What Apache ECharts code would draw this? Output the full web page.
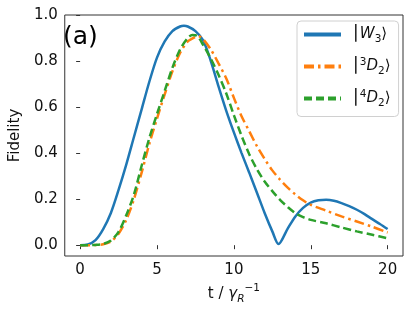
<!DOCTYPE html>
<html><head><meta charset="utf-8">
<script src="https://cdn.jsdelivr.net/npm/echarts@6/dist/echarts.min.js"></script>
<style>html,body{margin:0;padding:0;background:#fff}#c{width:414px;height:311px}</style>
</head><body><div id="c"></div>
<script>
var xTicks = [0, 5, 10, 15, 20];
var yTicks = [0, 0.2, 0.4, 0.6, 0.8, 1.0];

var tW3 = [0,0.5,1,1.5,2,2.5,3,3.5,4,4.5,5,5.5,6,6.5,6.75,7,7.5,8,8.5,9,9.5,10,10.5,11,11.5,12,12.5,12.9,13.5,14,14.5,15,15.5,16,16.5,17,17.5,18,18.5,19,19.5,20];
var fW3 = [0,0.003,0.022,0.07,0.14,0.24,0.35,0.47,0.59,0.71,0.815,0.885,0.93,0.95,0.953,0.95,0.93,0.89,0.80,0.69,0.585,0.49,0.40,0.315,0.228,0.14,0.06,0.005,0.072,0.125,0.162,0.185,0.195,0.197,0.193,0.183,0.17,0.154,0.135,0.113,0.092,0.07];

var t3D2 = [0,0.5,1,1.5,2,2.5,3,3.5,4,4.5,5,5.5,6,6.5,7,7.5,7.7,8,8.5,9,9.5,10,10.5,11,11.5,12,12.5,13,13.5,14,14.5,15,16,17,18,19,20];
var f3D2 = [0,0,0.001,0.004,0.016,0.05,0.11,0.2,0.315,0.44,0.55,0.655,0.755,0.835,0.885,0.905,0.908,0.895,0.85,0.79,0.725,0.64,0.56,0.495,0.43,0.375,0.325,0.285,0.25,0.22,0.195,0.175,0.15,0.125,0.103,0.08,0.055];

var t4D2 = [0,0.5,1,1.5,2,2.5,3,3.5,4,4.5,5,5.5,6,6.5,7,7.3,7.6,8,8.5,9,9.5,10,10.5,11,11.5,12,12.5,13,13.5,14,14.5,15,16,17,18,19,20];
var f4D2 = [0,0,0.001,0.005,0.02,0.058,0.13,0.22,0.345,0.465,0.57,0.67,0.77,0.85,0.90,0.913,0.91,0.87,0.81,0.74,0.66,0.565,0.475,0.395,0.33,0.277,0.235,0.197,0.166,0.139,0.122,0.11,0.095,0.077,0.06,0.045,0.03];

var names = ['W3', '3D2', '4D2'];

function pairs(t, f) { return t.map(function (v, i) { return [v, f[i]]; }); }

var chart = echarts.init(document.getElementById('c'), null, {renderer: 'canvas'});
var FONT = 'DejaVu Sans';
var legendText = {
  'W3': '{t|⎮}{i|W}{sub|3}{t|⟩}',
  '3D2': '{t|⎮}{sup|3}{i|D}{sub|2}{t|⟩}',
  '4D2': '{t|⎮}{sup|4}{i|D}{sub|2}{t|⟩}'
};
chart.setOption({
  animation: false,
  grid: {left: 60, top: 15, right: 11, bottom: 55, show: true, borderColor: '#333', borderWidth: 1},
  xAxis: {
    type: 'value', min: -1, max: 21,
    axisLine: {show: false},
    axisTick: {show: true, inside: false, length: 4, lineStyle: {color: '#333'}, customValues: xTicks},
    axisLabel: {customValues: xTicks, margin: 7, fontFamily: FONT, fontSize: 15, color: '#111'},
    splitLine: {show: false},
    name: '{t|t / }{i|γ}{sub|R}{sup|−1}',
    nameLocation: 'middle', nameGap: 25,
    nameTextStyle: {
      fontFamily: FONT, fontSize: 15, color: '#111',
      rich: {
        t: {fontFamily: FONT, fontSize: 15, lineHeight: 22, verticalAlign: 'middle', color: '#111'},
        i: {fontFamily: FONT, fontSize: 15, fontStyle: 'italic', lineHeight: 22, color: '#111'},
        sub: {fontFamily: FONT, fontSize: 10.5, fontStyle: 'italic', lineHeight: 10, verticalAlign: 'bottom', color: '#111'},
        sup: {fontFamily: FONT, fontSize: 10.5, lineHeight: 10, verticalAlign: 'top', color: '#111'}
      }
    }
  },
  yAxis: {
    type: 'value', min: -0.047, max: 1.0,
    axisLine: {show: false},
    axisTick: {show: true, inside: false, length: 4, lineStyle: {color: '#333'}, customValues: yTicks},
    axisLabel: {customValues: yTicks, margin: 7, fontFamily: FONT, fontSize: 15, color: '#111',
      formatter: function (v) { return v.toFixed(1); }},
    splitLine: {show: false},
    name: 'Fidelity', nameLocation: 'middle', nameGap: 36,
    nameTextStyle: {fontFamily: FONT, fontSize: 15, color: '#111'}
  },
  legend: {
    left: 297, top: 21,
    orient: 'vertical',
    backgroundColor: 'rgba(255,255,255,0.8)',
    borderColor: '#d0d0d0', borderWidth: 1, borderRadius: 4,
    padding: [6, 8, 8, 5],
    itemWidth: 37, itemHeight: 16, itemGap: 12,
    data: names,
    formatter: function (n) { return legendText[n]; },
    itemStyle: {opacity: 0},
    textStyle: {
      fontFamily: FONT, fontSize: 15, color: '#111', padding: [0, 0, 0, 6],
      rich: {
        t: {fontFamily: FONT, fontSize: 15, lineHeight: 20, color: '#111'},
        i: {fontFamily: FONT, fontSize: 15, fontStyle: 'italic', lineHeight: 20, color: '#111'},
        sub: {fontFamily: FONT, fontSize: 10.5, lineHeight: 10, verticalAlign: 'bottom', color: '#111'},
        sup: {fontFamily: FONT, fontSize: 10.5, lineHeight: 10, verticalAlign: 'top', color: '#111'}
      }
    },
    lineStyle: {width: 4}
  },
  graphic: [{
    type: 'text', left: 63, top: 25,
    style: {text: '(a)', fontFamily: FONT, fontSize: 25, fill: '#000'}
  }],
  series: [
    {name: 'W3', type: 'line', data: pairs(tW3, fW3), showSymbol: false, symbol: 'none', smooth: 0.3,
      color: '#1f77b4', lineStyle: {color: '#1f77b4', width: 2.5}},
    {name: '3D2', type: 'line', data: pairs(t3D2, f3D2), showSymbol: false, symbol: 'none', smooth: 0.3,
      color: '#ff7f0e', lineStyle: {color: '#ff7f0e', width: 2.5, type: [10, 4, 2.5, 4]}},
    {name: '4D2', type: 'line', data: pairs(t4D2, f4D2), showSymbol: false, symbol: 'none', smooth: 0.3,
      color: '#2ca02c', lineStyle: {color: '#2ca02c', width: 2.5, type: [8, 4]}}
  ]
});
</script></body></html>
